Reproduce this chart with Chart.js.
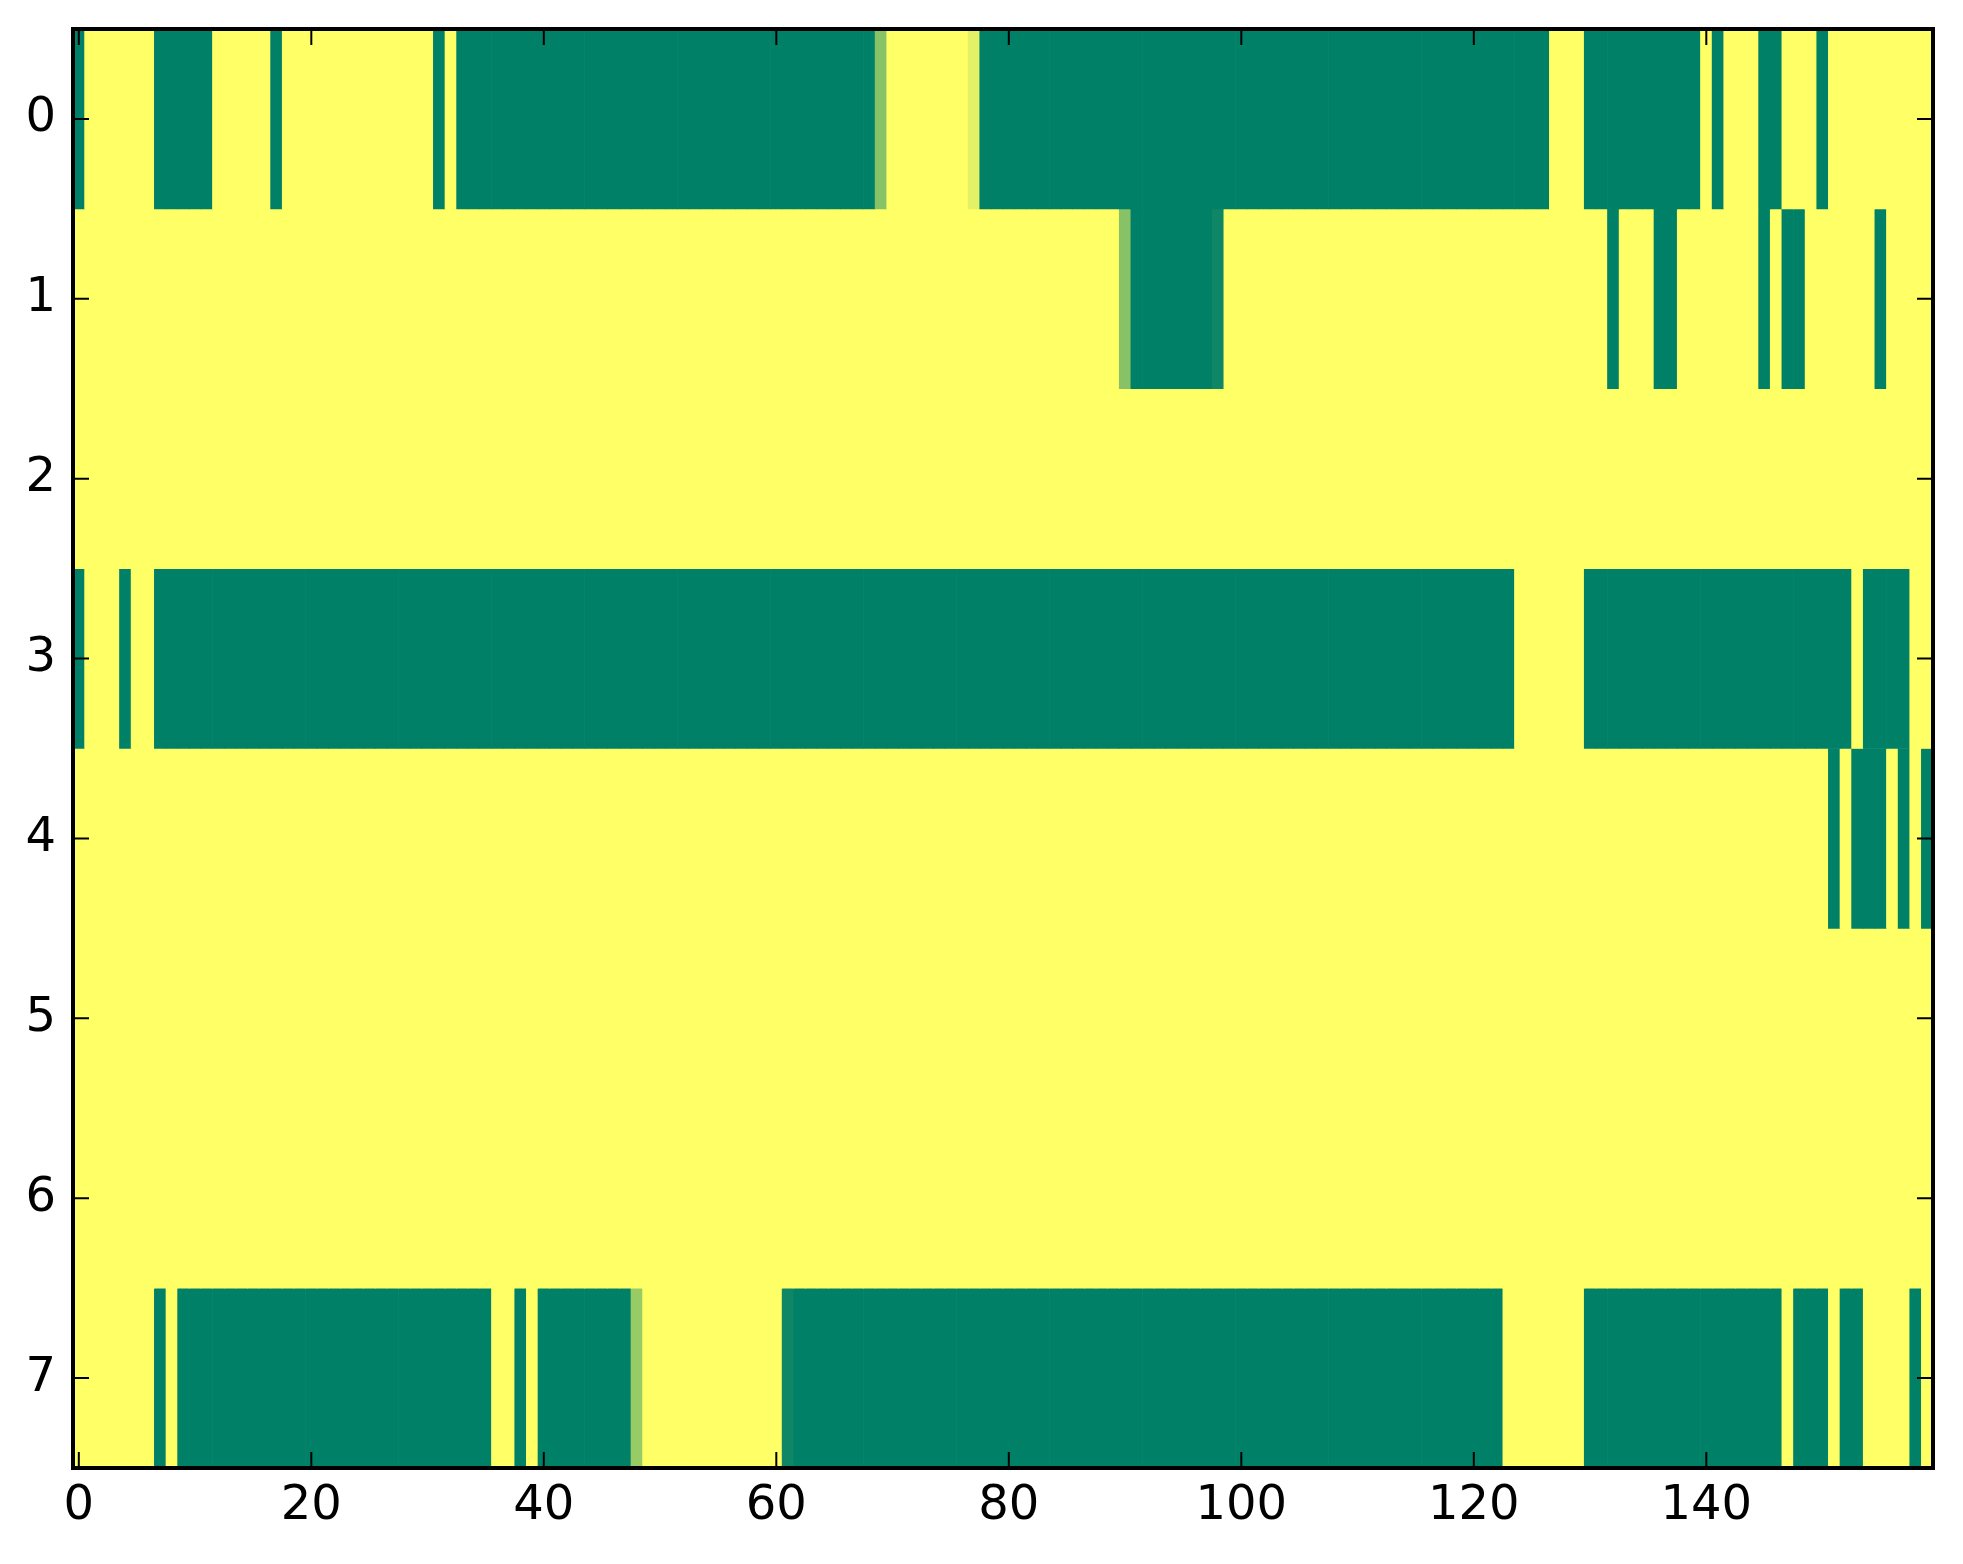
<!DOCTYPE html>
<html>
<head>
<meta charset="utf-8">
<script src="https://cdn.jsdelivr.net/npm/chart.js@4.4.0/dist/chart.umd.min.js"></script>
<style>
  html, body { margin: 0; padding: 0; background: #ffffff; }
  #wrap { width: 1963px; height: 1564px; }
</style>
</head>
<body>
<div id="wrap"><canvas id="heat" width="1963" height="1564"></canvas></div>
<script>
// one array per image row, 160 columns each (0 = green, 1 = yellow, summer colormap)
const row0 = [
  0,1,1,1,1,1,1,0,0,0,0,0,1,1,1,1,1,0,1,1,
  1,1,1,1,1,1,1,1,1,1,1,0,1,0,0,0,0,0,0,0,
  0,0,0,0,0,0,0,0,0,0,0,0,0,0,0,0,0,0,0,0,
  0,0,0,0,0,0,0,0,0,0.53,1,1,1,1,1,1,1,0.89,0,0,
  0,0,0,0,0,0,0,0,0,0,0,0,0,0,0,0,0,0,0,0,
  0,0,0,0,0,0,0,0,0,0,0,0,0,0,0,0,0,0,0,0,
  0,0,0,0,0,0,0,1,1,1,0,0,0,0,0,0,0,0,0,0,
  1,0,1,1,1,0,0,1,1,1,0,1,1,1,1,1,1,1,1,1
];
const row1 = [
  1,1,1,1,1,1,1,1,1,1,1,1,1,1,1,1,1,1,1,1,
  1,1,1,1,1,1,1,1,1,1,1,1,1,1,1,1,1,1,1,1,
  1,1,1,1,1,1,1,1,1,1,1,1,1,1,1,1,1,1,1,1,
  1,1,1,1,1,1,1,1,1,1,1,1,1,1,1,1,1,1,1,1,
  1,1,1,1,1,1,1,1,1,1,0.53,0,0,0,0,0,0,0,0.06,1,
  1,1,1,1,1,1,1,1,1,1,1,1,1,1,1,1,1,1,1,1,
  1,1,1,1,1,1,1,1,1,1,1,1,0,1,1,1,0,0,1,1,
  1,1,1,1,1,0,1,0,0,1,1,1,1,1,1,0,1,1,1,1
];
const row2 = [
  1,1,1,1,1,1,1,1,1,1,1,1,1,1,1,1,1,1,1,1,
  1,1,1,1,1,1,1,1,1,1,1,1,1,1,1,1,1,1,1,1,
  1,1,1,1,1,1,1,1,1,1,1,1,1,1,1,1,1,1,1,1,
  1,1,1,1,1,1,1,1,1,1,1,1,1,1,1,1,1,1,1,1,
  1,1,1,1,1,1,1,1,1,1,1,1,1,1,1,1,1,1,1,1,
  1,1,1,1,1,1,1,1,1,1,1,1,1,1,1,1,1,1,1,1,
  1,1,1,1,1,1,1,1,1,1,1,1,1,1,1,1,1,1,1,1,
  1,1,1,1,1,1,1,1,1,1,1,1,1,1,1,1,1,1,1,1
];
const row3 = [
  0,1,1,1,0,1,1,0,0,0,0,0,0,0,0,0,0,0,0,0,
  0,0,0,0,0,0,0,0,0,0,0,0,0,0,0,0,0,0,0,0,
  0,0,0,0,0,0,0,0,0,0,0,0,0,0,0,0,0,0,0,0,
  0,0,0,0,0,0,0,0,0,0,0,0,0,0,0,0,0,0,0,0,
  0,0,0,0,0,0,0,0,0,0,0,0,0,0,0,0,0,0,0,0,
  0,0,0,0,0,0,0,0,0,0,0,0,0,0,0,0,0,0,0,0,
  0,0,0,0,1,1,1,1,1,1,0,0,0,0,0,0,0,0,0,0,
  0,0,0,0,0,0,0,0,0,0,0,0,0,1,0,0,0,0,1,1
];
const row4 = [
  1,1,1,1,1,1,1,1,1,1,1,1,1,1,1,1,1,1,1,1,
  1,1,1,1,1,1,1,1,1,1,1,1,1,1,1,1,1,1,1,1,
  1,1,1,1,1,1,1,1,1,1,1,1,1,1,1,1,1,1,1,1,
  1,1,1,1,1,1,1,1,1,1,1,1,1,1,1,1,1,1,1,1,
  1,1,1,1,1,1,1,1,1,1,1,1,1,1,1,1,1,1,1,1,
  1,1,1,1,1,1,1,1,1,1,1,1,1,1,1,1,1,1,1,1,
  1,1,1,1,1,1,1,1,1,1,1,1,1,1,1,1,1,1,1,1,
  1,1,1,1,1,1,1,1,1,1,1,0,1,0,0,0,1,0,1,0
];
const row5 = [
  1,1,1,1,1,1,1,1,1,1,1,1,1,1,1,1,1,1,1,1,
  1,1,1,1,1,1,1,1,1,1,1,1,1,1,1,1,1,1,1,1,
  1,1,1,1,1,1,1,1,1,1,1,1,1,1,1,1,1,1,1,1,
  1,1,1,1,1,1,1,1,1,1,1,1,1,1,1,1,1,1,1,1,
  1,1,1,1,1,1,1,1,1,1,1,1,1,1,1,1,1,1,1,1,
  1,1,1,1,1,1,1,1,1,1,1,1,1,1,1,1,1,1,1,1,
  1,1,1,1,1,1,1,1,1,1,1,1,1,1,1,1,1,1,1,1,
  1,1,1,1,1,1,1,1,1,1,1,1,1,1,1,1,1,1,1,1
];
const row6 = [
  1,1,1,1,1,1,1,1,1,1,1,1,1,1,1,1,1,1,1,1,
  1,1,1,1,1,1,1,1,1,1,1,1,1,1,1,1,1,1,1,1,
  1,1,1,1,1,1,1,1,1,1,1,1,1,1,1,1,1,1,1,1,
  1,1,1,1,1,1,1,1,1,1,1,1,1,1,1,1,1,1,1,1,
  1,1,1,1,1,1,1,1,1,1,1,1,1,1,1,1,1,1,1,1,
  1,1,1,1,1,1,1,1,1,1,1,1,1,1,1,1,1,1,1,1,
  1,1,1,1,1,1,1,1,1,1,1,1,1,1,1,1,1,1,1,1,
  1,1,1,1,1,1,1,1,1,1,1,1,1,1,1,1,1,1,1,1
];
const row7 = [
  1,1,1,1,1,1,1,0,1,0,0,0,0,0,0,0,0,0,0,0,
  0,0,0,0,0,0,0,0,0,0,0,0,0,0,0,0,1,1,0,1,
  0,0,0,0,0,0,0,0,0.59,1,1,1,1,1,1,1,1,1,1,1,
  1,0.06,0,0,0,0,0,0,0,0,0,0,0,0,0,0,0,0,0,0,
  0,0,0,0,0,0,0,0,0,0,0,0,0,0,0,0,0,0,0,0,
  0,0,0,0,0,0,0,0,0,0,0,0,0,0,0,0,0,0,0,0,
  0,0,0,1,1,1,1,1,1,1,0,0,0,0,0,0,0,0,0,0,
  0,0,0,0,0,0,0,1,0,0,0,1,0,0,1,1,1,1,0,1
];

const rows = [row0, row1, row2, row3, row4, row5, row6, row7];
const rowLabels = ['0', '1', '2', '3', '4', '5', '6', '7'];
const xTicks = [0, 20, 40, 60, 80, 100, 120, 140];

// matplotlib "summer": r = v, g = 0.5 + v/2, b = 0.4
function summer(v) {
  const r = Math.round(255 * v);
  const g = Math.round(255 * (0.5 + v / 2));
  return 'rgb(' + r + ',' + g + ',102)';
}

const datasets = rows.map((vals, r) => ({
  label: 'row ' + r,
  data: vals.map((v, c) => ({ y: rowLabels[r], x: [c - 0.5, c + 0.5] })),
  backgroundColor: vals.map(summer),
  borderWidth: 0,
  grouped: false,
  barPercentage: 1.0,
  categoryPercentage: 1.0,
}));

const tickFont = { family: 'DejaVu Sans', size: 48 };

// black frame and inward ticks on all four sides, like the classic style
const framePlugin = {
  id: 'frame',
  afterDatasetsDraw(chart) {
    const ctx = chart.ctx;
    const a = chart.chartArea;
    const xs = chart.scales.x;
    const ys = chart.scales.y;
    const len = 16;
    ctx.save();
    ctx.strokeStyle = '#000';
    ctx.lineWidth = 2;
    ctx.beginPath();
    xTicks.forEach(v => {
      const px = xs.getPixelForValue(v);
      ctx.moveTo(px, a.bottom); ctx.lineTo(px, a.bottom - len);
      ctx.moveTo(px, a.top); ctx.lineTo(px, a.top + len);
    });
    rowLabels.forEach((lab, i) => {
      const py = ys.getPixelForValue(i);
      ctx.moveTo(a.left, py); ctx.lineTo(a.left + len, py);
      ctx.moveTo(a.right, py); ctx.lineTo(a.right - len, py);
    });
    ctx.stroke();
    ctx.lineWidth = 4;
    ctx.strokeRect(a.left, a.top, a.right - a.left, a.bottom - a.top);
    ctx.restore();
  }
};

new Chart(document.getElementById('heat'), {
  type: 'bar',
  data: { labels: rowLabels, datasets: datasets },
  options: {
    indexAxis: 'y',
    responsive: false,
    animation: false,
    devicePixelRatio: 1,
    layout: { padding: { top: 29, right: 30, left: 0, bottom: 0 } },
    plugins: { legend: { display: false }, tooltip: { enabled: false } },
    scales: {
      x: {
        type: 'linear',
        min: -0.5,
        max: 159.5,
        grid: { display: false, drawTicks: false },
        border: { display: false },
        afterBuildTicks: (scale) => { scale.ticks = xTicks.map(v => ({ value: v })); },
        afterFit: (scale) => {
          scale.height = 96;
          scale.paddingLeft = 0;
          scale.paddingRight = 0;
        },
        ticks: { font: tickFont, color: '#000', padding: 10, autoSkip: false, maxRotation: 0 }
      },
      y: {
        type: 'category',
        offset: true,
        grid: { display: false, drawTicks: false },
        border: { display: false },
        afterFit: (scale) => {
          scale.width = 73;
          scale.paddingTop = 0;
          scale.paddingBottom = 0;
        },
        ticks: { font: tickFont, color: '#000', padding: 17 }
      }
    }
  },
  plugins: [framePlugin]
});
</script>
</body>
</html>
